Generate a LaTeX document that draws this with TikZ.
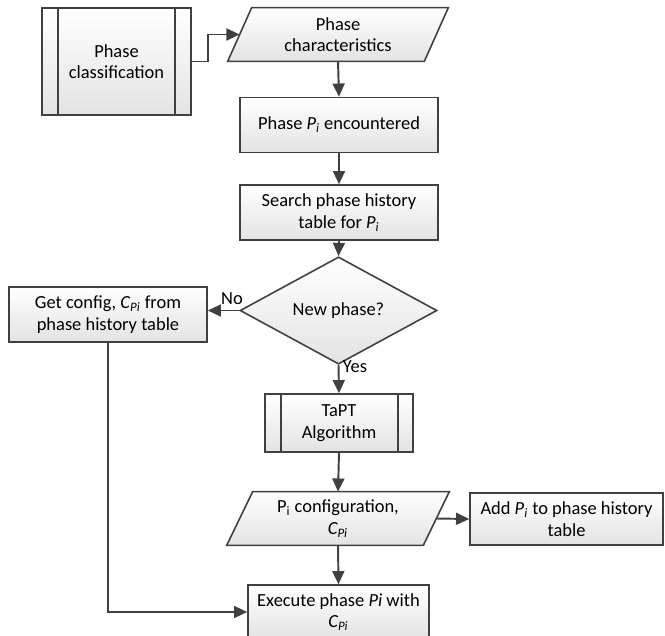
\documentclass[tikz,border=0pt]{standalone}
\usepackage{fontspec}
\setmainfont{Carlito}
\usetikzlibrary{arrows.meta,shapes.geometric,backgrounds}
\definecolor{linec}{HTML}{404040}
\definecolor{fillc}{HTML}{E3E3E3}
\tikzset{
  shadedfill/.style={draw=linec, line width=0.9pt, top color=white, bottom color=fillc},
  box/.style={shadedfill, minimum width=3.96cm, minimum height=1.1cm, align=center, inner sep=1pt},
  plainnode/.style={minimum width=3.92cm, minimum height=1.06cm, align=center, inner sep=0pt},
  decision/.style={shadedfill, diamond, minimum width=3.94cm, minimum height=1.42cm, inner sep=0pt, align=center},
  arr/.style={draw=linec, line width=1.1pt, -{Triangle[length=7.5pt,width=6.8pt]}},
  lbl/.style={inner sep=0pt},
  bar/.style={draw=linec, line width=0.9pt}
}
\begin{document}
\begin{tikzpicture}[x=0.02cm,y=-0.02cm,font=\fontsize{10.5}{12.2}\selectfont]
\useasboundingbox (0,0) rectangle (665,635);
\clip (0,0) rectangle (665,635);

% nodes
\node[box, minimum width=2.98cm, minimum height=2.14cm] (cls) at (116.5,61.5) {Phase\\classification};
\node[plainnode] (pchar) at (338,34.5) {Phase\\characteristics};
\node[box] (enc) at (339,125) {Phase \textit{P\textsubscript{i}} encountered};
\node[box] (search) at (339,212.5) {Search phase history\\table for \textit{P\textsubscript{i}}};
\node[decision] (dec) at (338.5,310.5) {New phase?};
\node[box] (cfg) at (108,314.5) {Get config, \textit{C\textsubscript{Pi}} from\\phase history table};
\node[box, minimum width=2.96cm, minimum height=1.16cm] (tapt) at (339,423) {TaPT\\Algorithm};
\node[plainnode] (pcfg) at (338,518.5) {P\textsubscript{i} configuration,\\\textit{C\textsubscript{Pi}}};
\node[box, minimum width=3.86cm, minimum height=1.04cm] (add) at (566.5,519) {Add \textit{P\textsubscript{i}} to phase history\\table};
\node[box, minimum width=3.62cm, minimum height=1.08cm] (exec) at (338.5,612) {Execute phase \textit{Pi} with\\\textit{C\textsubscript{Pi}}};

% parallelograms behind text
\begin{scope}[on background layer]
  \path[shadedfill] ([xshift=0.24cm]pchar.north west) -- ([xshift=0.24cm]pchar.north east)
     -- ([xshift=-0.24cm]pchar.south east) -- ([xshift=-0.24cm]pchar.south west) -- cycle;
  \path[shadedfill] ([xshift=0.26cm]pcfg.north west) -- ([xshift=0.26cm]pcfg.north east)
     -- ([xshift=-0.26cm]pcfg.south east) -- ([xshift=-0.26cm]pcfg.south west) -- cycle;
\end{scope}

% predefined-process bars
\draw[bar] ([xshift=0.34cm]cls.north west) -- ([xshift=0.34cm]cls.south west);
\draw[bar] ([xshift=-0.34cm]cls.north east) -- ([xshift=-0.34cm]cls.south east);
\draw[bar] ([xshift=0.34cm]tapt.north west) -- ([xshift=0.34cm]tapt.south west);
\draw[bar] ([xshift=-0.32cm]tapt.north east) -- ([xshift=-0.32cm]tapt.south east);

% connectors
\draw[arr] (cls.east) -- ++(16,0) |- (pchar.west);
\draw[arr] (pchar.south) -- (enc.north);
\draw[arr] (enc.south) -- (search.north);
\draw[arr] (search.south) -- (dec.north);
\draw[arr] (dec.west) -- (cfg.east |- dec.west);
\draw[arr] (dec.south) -- (tapt.north);
\draw[arr] (tapt.south) -- (pcfg.north);
\draw[arr] (pcfg.east) -- (add.west);
\draw[arr] (pcfg.south) -- (exec.north);
\draw[arr] (cfg.south) |- (exec.west);

% labels
\node[lbl] (nolbl) at (232,299) {No};
\node[lbl] (yeslbl) at (355,367) {Yes};
\end{tikzpicture}
\end{document}
